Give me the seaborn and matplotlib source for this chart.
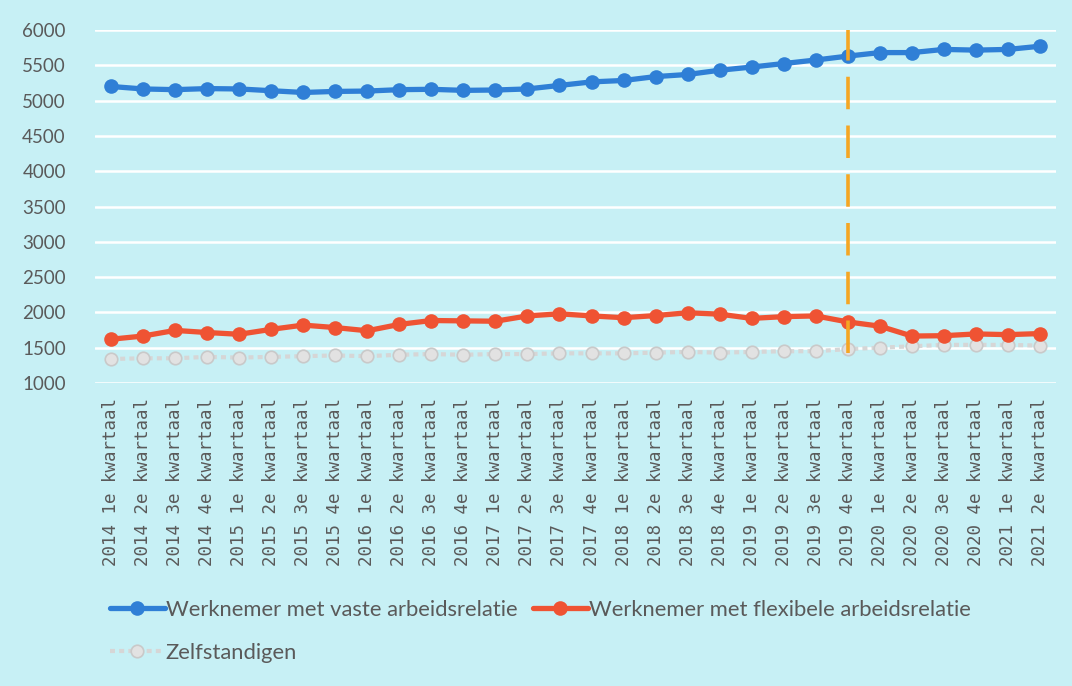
import pandas as pd
import matplotlib.pyplot as plt
import seaborn as sns
from matplotlib.lines import Line2D

quarters = [f"{y} {q}e kwartaal" for y in range(2014, 2022) for q in range(1, 5)][:30]

vast = [5200, 5165, 5155, 5170, 5165, 5140, 5115, 5130, 5135, 5155,
        5160, 5145, 5150, 5165, 5215, 5265, 5285, 5340, 5370, 5430,
        5475, 5525, 5575, 5630, 5680, 5680, 5725, 5715, 5725, 5770]
flex = [1620, 1665, 1745, 1715, 1690, 1760, 1820, 1785, 1740, 1830,
        1885, 1880, 1875, 1950, 1980, 1950, 1925, 1955, 1995, 1975,
        1915, 1940, 1950, 1865, 1805, 1665, 1670, 1695, 1685, 1700]
zelf = [1340, 1350, 1350, 1370, 1360, 1370, 1380, 1390, 1380, 1400,
        1410, 1400, 1410, 1410, 1420, 1420, 1420, 1430, 1440, 1430,
        1440, 1450, 1450, 1480, 1500, 1520, 1540, 1540, 1540, 1530]

series_names = ['Werknemer met vaste arbeidsrelatie',
                'Werknemer met flexibele arbeidsrelatie',
                'Zelfstandigen']
marker_quarter = '2019 4e kwartaal'

df = pd.DataFrame({'Kwartaal': quarters, series_names[0]: vast,
                   series_names[1]: flex, series_names[2]: zelf})

bg = '#c7f0f5'
blue = '#2f7fd6'
red = '#ef5333'
grey = '#d6d6d6'
txt = '#5a5a5a'

sns.set_theme(style='white')
plt.rcParams['font.family'] = ['Lato', 'DejaVu Sans']

fig = plt.figure(figsize=(10.72, 6.86), dpi=100, facecolor=bg)
ax = fig.add_axes([95 / 1072, 1 - 383 / 686, (1056 - 95) / 1072, (383 - 30) / 686])
ax.set_facecolor(bg)

zelf_style = dict(color=grey, linewidth=3, linestyle=(0, (1.2, 1.0)), marker='o', markersize=9,
                  markerfacecolor='#e2e2e2', markeredgecolor='#c9c9c9', markeredgewidth=1.2)
main_style = dict(linewidth=3.8, marker='o', markersize=10.5, markeredgewidth=0)

sns.lineplot(data=df, x='Kwartaal', y=series_names[2], ax=ax, zorder=3, **zelf_style)
sns.lineplot(data=df, x='Kwartaal', y=series_names[1], ax=ax, color=red, zorder=4, **main_style)
sns.lineplot(data=df, x='Kwartaal', y=series_names[0], ax=ax, color=blue, zorder=4, **main_style)

xi = quarters.index(marker_quarter)
ax.vlines(xi, 1430, 6000, colors='#f5a623', linestyles=(0, (9, 4.5)), linewidth=2.6, zorder=5)

ax.set_xlim(-0.5, len(quarters) - 0.5)
ax.set_ylim(1000, 6000)
ax.set_yticks(range(1000, 6001, 500))
ax.yaxis.grid(True, color='white', linewidth=1.8)
ax.set_axisbelow(True)
for s in ax.spines.values():
    s.set_visible(False)
ax.set_xlabel('')
ax.set_ylabel('')
ax.tick_params(axis='y', length=0, pad=21, labelsize=13.5, labelcolor=txt)
ax.tick_params(axis='x', length=0, pad=11, labelsize=12.6, labelcolor=txt)
ax.set_xticks(range(len(quarters)))
ax.set_xticklabels(quarters, rotation=90, family='DejaVu Sans Mono')

handles = [
    Line2D([], [], color=blue, **main_style),
    Line2D([], [], **zelf_style),
    Line2D([], [], color=red, **main_style),
]
labels = [series_names[0], series_names[2], series_names[1]]
fig.legend(handles, labels, loc='upper left', bbox_to_anchor=(90 / 1072, 1 - 580 / 686),
           ncol=2, frameon=False, fontsize=15.8, handlelength=2.5, handletextpad=0.05,
           columnspacing=0.7, labelspacing=1.05, labelcolor=txt)

fig.savefig('out.png', dpi=100, facecolor=bg)
